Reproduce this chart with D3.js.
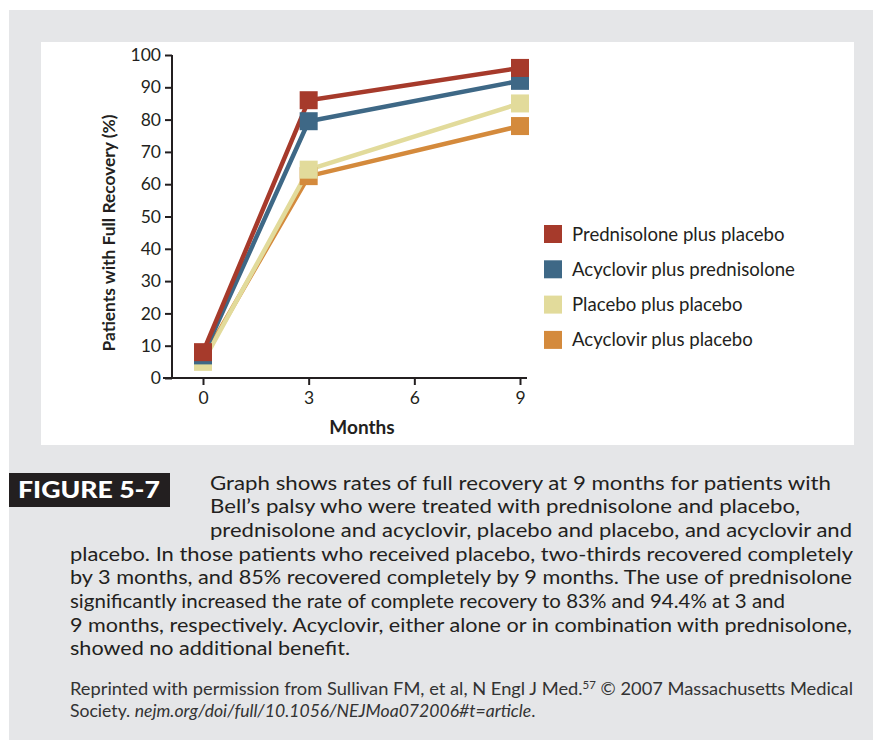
<!DOCTYPE html>
<html>
<head>
<meta charset="utf-8">
<script src="https://cdn.jsdelivr.net/npm/d3@7"></script>
<style>
  body { margin: 0; background: #fff; }
  svg { display: block; font-family: Lato, "Noto Sans", sans-serif; }
</style>
</head>
<body>
<div id="fig"></div>
<script>
// Bell's palsy full recovery
var timepoints = [0, 3, 9];
var monthTicks = [0, 3, 6, 9];
var percentTicks = [0, 10, 20, 30, 40, 50, 60, 70, 80, 90, 100];

var seriesNames = ["Prednisolone plus placebo", "Acyclovir plus prednisolone",
                   "Placebo plus placebo", "Acyclovir plus placebo"];
var prednisolonePlacebo = [8, 86, 96];
var acyclovirPrednisolone = [7, 79.5, 92];
var placeboPlacebo = [5, 64.5, 85];
var acyclovirPlacebo = [6, 62.5, 78];
var seriesColors = ["#a63a2b", "#3e6886", "#e2db9b", "#d48a3c"];

var captionLines = [
  "Graph shows rates of full recovery at 9 months for patients with",
  "Bell\u2019s palsy who were treated with prednisolone and placebo,",
  "prednisolone and acyclovir, placebo and placebo, and acyclovir and",
  "placebo. In those patients who received placebo, two-thirds recovered completely",
  "by 3 months, and 85% recovered completely by 9 months. The use of prednisolone",
  "significantly increased the rate of complete recovery to 83% and 94.4% at 3 and",
  "9 months, respectively. Acyclovir, either alone or in combination with prednisolone,",
  "showed no additional benefit."
];
// line end points (right edge of each caption line)
var captionEnds = [831, 800, 852, 853, 852, 785, 852, 350];

(function () {
  var W = 873, H = 740;
  var ink = "#231f20";
  var svg = d3.select("#fig").append("svg").attr("width", W).attr("height", H);

  // page panels
  svg.append("rect").attr("x", 9).attr("y", 10).attr("width", W - 9).attr("height", H - 10).attr("fill", "#e5e6e8");
  svg.append("rect").attr("x", 41).attr("y", 42).attr("width", 813).attr("height", 403).attr("fill", "#fff");

  var x = d3.scaleLinear().domain([0, 9]).range([203, 520]);
  var y = d3.scaleLinear().domain([0, 100]).range([378, 55]);
  var axisX = 172;

  // y axis
  var gy = svg.append("g").attr("transform", "translate(" + axisX + ",0)")
    .call(d3.axisLeft(y).tickValues(percentTicks).tickSize(7).tickSizeOuter(0).tickPadding(4));
  gy.select(".domain").attr("d", "M0," + y(0) + "V" + y(100));
  // x axis
  var gx = svg.append("g").attr("transform", "translate(0," + y(0) + ")")
    .call(d3.axisBottom(x).tickValues(monthTicks).tickSize(7).tickSizeOuter(0).tickPadding(7));
  gx.select(".domain").attr("d", "M" + (axisX - 9) + ",0H" + (x(9) + 7));

  [gx, gy].forEach(function (g) {
    g.selectAll("path, line").attr("stroke", ink).attr("stroke-width", 2);
    g.selectAll("text").attr("fill", ink).style("font-size", "17.5px").style("font-family", "Lato");
  });

  svg.append("text").attr("x", 362).attr("y", 434).attr("text-anchor", "middle")
    .attr("fill", ink).style("font-size", "19px").style("font-weight", "bold").text("Months");
  svg.append("text").attr("transform", "translate(115," + 233 + ") rotate(-90)").attr("text-anchor", "middle")
    .attr("fill", ink).style("font-size", "17.5px").style("font-weight", "bold")
    .attr("textLength", 237).attr("lengthAdjust", "spacingAndGlyphs")
    .text("Patients with Full Recovery (%)");

  // series, drawn bottom-up so red ends on top
  var allSeries = [prednisolonePlacebo, acyclovirPrednisolone, placeboPlacebo, acyclovirPlacebo];
  var order = [3, 2, 1, 0];
  var line = d3.line().x(function (d, i) { return x(timepoints[i]); }).y(function (d) { return y(d); });
  order.forEach(function (k) {
    svg.append("path").attr("d", line(allSeries[k])).attr("fill", "none")
      .attr("stroke", seriesColors[k]).attr("stroke-width", 4.5);
  });
  var ms = 18;
  order.forEach(function (k) {
    svg.selectAll(null).data(allSeries[k]).enter().append("rect")
      .attr("x", function (d, i) { return x(timepoints[i]) - ms / 2; })
      .attr("y", function (d) { return y(d) - ms / 2; })
      .attr("width", ms).attr("height", ms).attr("fill", seriesColors[k]);
  });

  // legend
  var lg = svg.append("g").attr("transform", "translate(544,234)");
  seriesNames.forEach(function (name, i) {
    lg.append("rect").attr("x", 0).attr("y", i * 35.3 - 9).attr("width", 18).attr("height", 18).attr("fill", seriesColors[i]);
    lg.append("text").attr("x", 28).attr("y", i * 35.3 + 6.5).attr("fill", ink)
      .style("font-size", "18.6px").text(name);
  });

  // caption
  svg.append("rect").attr("x", 9).attr("y", 473).attr("width", 161).attr("height", 34).attr("fill", "#231f20");
  svg.append("text").attr("x", 18).attr("y", 498).attr("fill", "#fff")
    .attr("textLength", 142).attr("lengthAdjust", "spacingAndGlyphs")
    .style("font-size", "23px").style("font-weight", "900").text("FIGURE 5-7");

  var cap = svg.append("g").attr("fill", ink).style("font-size", "19.6px");
  captionLines.forEach(function (t, i) {
    var x0 = i < 3 ? 210 : 70;
    cap.append("text").attr("x", x0).attr("y", 489.5 + i * 23.7)
      .attr("textLength", captionEnds[i] - x0).attr("lengthAdjust", "spacingAndGlyphs")
      .text(t);
  });

  var ref = svg.append("g").attr("fill", "#333");
  var r1 = ref.append("text").attr("x", 70).attr("y", 695).style("font-size", "17.6px")
    .attr("textLength", 783).attr("lengthAdjust", "spacingAndGlyphs");
  r1.append("tspan").text("Reprinted with permission from Sullivan FM, et al, N Engl J Med.");
  r1.append("tspan").attr("dy", -6).style("font-size", "11px").text("57");
  r1.append("tspan").attr("dy", 6).text(" \u00a9 2007 Massachusetts Medical");
  var r2 = ref.append("text").attr("x", 70).attr("y", 717).style("font-size", "17.6px");
  r2.append("tspan").text("Society. ");
  r2.append("tspan").style("font-style", "italic").text("nejm.org/doi/full/10.1056/NEJMoa072006#t=article");
  r2.append("tspan").text(".");
})();
</script>
</body>
</html>
